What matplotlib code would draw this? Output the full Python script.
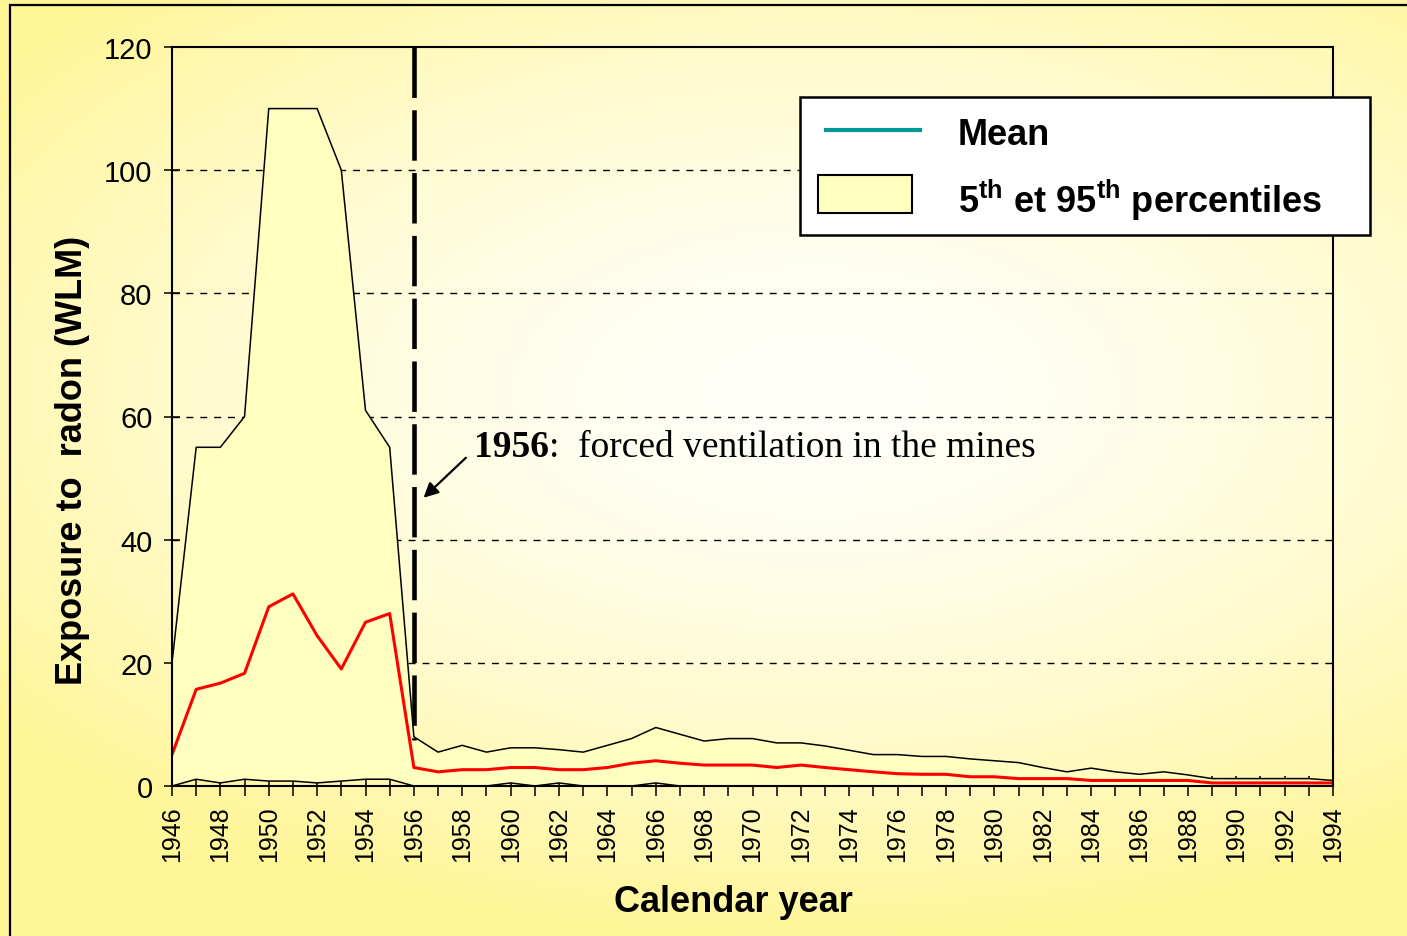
import numpy as np
import matplotlib
matplotlib.use("Agg")
import matplotlib.pyplot as plt
from matplotlib.patches import Rectangle
from matplotlib.lines import Line2D

plt.rcParams['font.family'] = ['Liberation Sans', 'DejaVu Sans']
plt.rcParams['mathtext.fontset'] = 'custom'
plt.rcParams['mathtext.rm'] = 'Liberation Sans'
plt.rcParams['mathtext.bf'] = 'Liberation Sans:bold'

# ---------------- data ----------------
years = list(range(1946, 1995))
p95 = [20, 55, 55, 60, 110, 110, 110, 100, 61, 55,
       8.0, 5.5, 6.6, 5.5, 6.2, 6.2, 5.9, 5.5, 6.6, 7.7,
       9.5, 8.4, 7.3, 7.7, 7.7, 7.0, 7.0, 6.5, 5.8, 5.1,
       5.1, 4.8, 4.8, 4.4, 4.1, 3.8, 3.0, 2.3, 2.9, 2.3,
       1.9, 2.3, 1.8, 1.2, 1.2, 1.2, 1.2, 1.2, 0.9]
mean = [5.1, 15.7, 16.7, 18.3, 29.1, 31.2, 24.4, 19.0, 26.6, 28.0,
        3.0, 2.3, 2.65, 2.65, 3.0, 3.0, 2.65, 2.65, 3.0, 3.7,
        4.1, 3.7, 3.4, 3.4, 3.4, 3.0, 3.4, 3.0, 2.65, 2.3,
        2.0, 1.9, 1.9, 1.5, 1.5, 1.2, 1.2, 1.2, 0.9, 0.9,
        0.9, 0.9, 0.9, 0.5, 0.5, 0.5, 0.5, 0.5, 0.5]
p5 = [0, 1.1, 0.5, 1.1, 0.8, 0.8, 0.5, 0.8, 1.1, 1.1,
      0, 0, 0, 0, 0.5, 0, 0.5, 0, 0, 0,
      0.5, 0, 0, 0, 0, 0, 0, 0, 0, 0,
      0, 0, 0, 0, 0, 0, 0, 0, 0, 0,
      0, 0, 0, 0, 0, 0, 0, 0, 0]
yticks = [0, 20, 40, 60, 80, 100, 120]
xtick_labels = list(range(1946, 1995, 2))
event_year = 1956
event_top = 7.5
legend_labels = ['Mean', r'5$^{\mathbf{th}}$ et 95$^{\mathbf{th}}$ percentiles']

W, H = 1407, 937
fig = plt.figure(figsize=(W / 100, H / 100), dpi=100)

def px(x, y):
    return (x / W, 1 - y / H)

# background gradient
bg = fig.add_axes([0, 0, 1, 1], zorder=-10)
yy, xx = np.mgrid[0:1:400j, 0:1:600j]
d = np.sqrt(((xx - 0.58) / 0.72) ** 2 + ((yy - 0.42) / 0.58) ** 2)
t = np.clip(d, 0, 1) ** 1.6
c0 = np.array([1.0, 1.0, 0.975])
c1 = np.array([1.0, 0.962, 0.60])
img = c0[None, None, :] * (1 - t[..., None]) + c1[None, None, :] * t[..., None]
bg.imshow(img, aspect='auto', extent=[0, 1, 1, 0])
bg.set_xlim(0, 1)
bg.set_ylim(1, 0)
bg.axis('off')
fig.patches.append(Rectangle((10 / W, -0.1), 1.2, 1 - 6 / H + 0.1,
                             transform=fig.transFigure, fill=False,
                             edgecolor='black', lw=1.6, zorder=-5))

ax = fig.add_axes([172 / W, 1 - 787 / H, (1333 - 172) / W, (787 - 48) / H])
ax.set_facecolor('none')

ax.fill_between(years, p5, p95, facecolor='#FFFFC0', edgecolor='none', zorder=2)
ax.plot(years, p95, color='black', lw=1.1, zorder=3)
ax.plot(years, p5, color='black', lw=1.1, zorder=3)
ax.plot(years, mean, color='#FF0000', lw=2.2, zorder=4)

for yv in yticks[1:-1]:
    ax.axhline(yv, color='black', lw=1.0, dashes=(5, 5), zorder=1)

ax.plot([event_year, event_year], [120, event_top], color='black', lw=3.3,
        dashes=(11, 2.7), zorder=5, solid_capstyle='butt', dash_capstyle='butt')

ax.set_xlim(1946, 1994)
ax.set_ylim(0, 120)
ax.set_yticks(yticks)
ax.set_xticks(years, minor=True)
ax.set_xticks(xtick_labels)
ax.set_xticklabels([str(v) for v in xtick_labels], rotation=90, fontsize=18)
ax.tick_params(axis='y', direction='inout', length=12, width=1.1, labelsize=21, pad=8)
ax.tick_params(axis='x', which='both', direction='inout', length=14, width=1.1, pad=7)
for s in ax.spines.values():
    s.set_linewidth(1.5)
    s.set_zorder(6)

# annotation
t1 = ax.text(1958.5, 53.6, "1956", fontsize=27, family='Liberation Serif',
             fontweight='bold', ha='left', va='baseline', zorder=7)
ax.annotate(":  forced ventilation in the mines", xy=(1, 0), xycoords=t1,
            fontsize=27, family='Liberation Serif', ha='left', va='bottom', zorder=7)
ax.annotate('', xy=(1956.4, 46.8), xytext=(1958.15, 53.3),
            arrowprops=dict(arrowstyle='-|>', color='black', lw=1.6,
                            mutation_scale=22, shrinkA=0, shrinkB=0), zorder=7)

fig.text(733 / W, 1 - 903 / H, 'Calendar year', fontsize=26, fontweight='bold',
         ha='center', va='center')
fig.text(73 / W, 1 - 460 / H, 'Exposure to  radon (WLM)', fontsize=26,
         fontweight='bold', rotation=90, ha='center', va='center')

# legend (drawn in figure pixel coordinates)
x0, y0 = px(800, 236)
x1, y1 = px(1370, 98)
fig.patches.append(Rectangle((x0, y0), x1 - x0, y1 - y0, transform=fig.transFigure,
                             facecolor='white', edgecolor='black', lw=1.8, zorder=10))
lx0, ly = px(826, 131)
lx1, _ = px(920, 131)
fig.lines.append(Line2D([lx0, lx1], [ly, ly], transform=fig.transFigure,
                        color='#009999', lw=3, zorder=11))
bx0, by0 = px(818, 214)
bx1, by1 = px(912, 176)
fig.patches.append(Rectangle((bx0, by0), bx1 - bx0, by1 - by0, transform=fig.transFigure,
                             facecolor='#FFFFC0', edgecolor='black', lw=1.5, zorder=11))
tx, ty = px(958, 145)
fig.text(tx, ty, legend_labels[0], fontsize=26, fontweight='bold',
         ha='left', va='baseline', zorder=12)
tx, ty = px(958, 213)
fig.text(tx, ty, legend_labels[1], fontsize=26, fontweight='bold',
         ha='left', va='baseline', zorder=12)

fig.savefig('out.png', dpi=100)
